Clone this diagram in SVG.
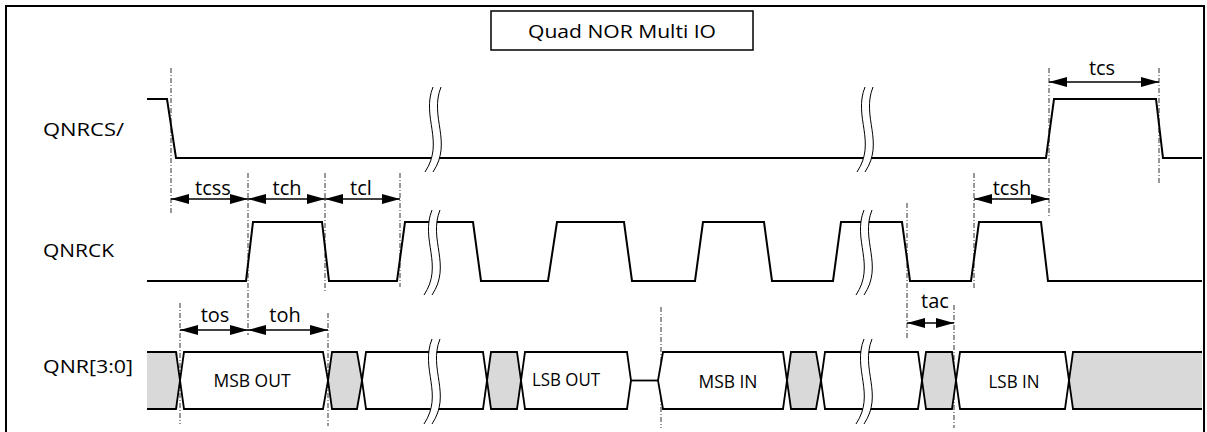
<svg xmlns="http://www.w3.org/2000/svg" width="1207" height="432" viewBox="0 0 1207 432">
<style>
.frame{fill:none;stroke:#000;stroke-width:2}
.wave{fill:none;stroke:#000;stroke-width:2;stroke-linejoin:miter}
.bus{stroke:#000;stroke-width:1.8;stroke-linejoin:miter}
.grey{fill:#d9d9d9}
.white{fill:#fff}
.guide{stroke:#333;stroke-width:1;stroke-dasharray:5 2 1 2;fill:none}
.dim{stroke:#000;stroke-width:1.5;fill:none;marker-start:url(#ah);marker-end:url(#ah)}
.lbl{font-family:"Open Sans","Liberation Sans",Arial,sans-serif;font-size:19px;fill:#000}
.tl{font-family:"Open Sans","Liberation Sans",Arial,sans-serif;font-size:20px;fill:#000;text-anchor:middle}
.dl{font-family:"Open Sans","Liberation Sans",Arial,sans-serif;font-size:18px;fill:#000;text-anchor:middle}
.brkfill{fill:#fff;stroke:none}
.brkline{fill:none;stroke:#000;stroke-width:1}
</style>
<defs>
<marker id="ah" viewBox="0 0 18 10" refX="18" refY="5" markerWidth="18" markerHeight="10" markerUnits="userSpaceOnUse" orient="auto-start-reverse">
<path d="M0,0 L18,5 L0,10 Z" fill="#000"/>
</marker>
<g id="brk">
<path class="brkfill" d="M2,0 C-10,30 14,55 -6,85 L2,85 C22,55 -2,30 10,0 Z"/>
<path class="brkline" d="M2,0 C-10,30 14,55 -6,85"/>
<path class="brkline" d="M10,0 C-2,30 22,55 2,85"/>
</g>
</defs>
<rect width="1207" height="432" fill="#fff"/>
<rect class="frame" x="6" y="6" width="1198" height="440"/>

<g id="title">
<rect x="491" y="11" width="262" height="39" fill="#fff" stroke="#000" stroke-width="1.5"/>
<text class="lbl" x="622" y="38" text-anchor="middle" textLength="188" lengthAdjust="spacingAndGlyphs">Quad NOR Multi IO</text>
</g>

<g id="guides">
<line class="guide" x1="171" y1="68" x2="171" y2="215"/>
<line class="guide" x1="248" y1="173" x2="248" y2="335"/>
<line class="guide" x1="325" y1="173" x2="325" y2="292"/>
<line class="guide" x1="400" y1="173" x2="400" y2="287"/>
<line class="guide" x1="180" y1="303" x2="180" y2="424"/>
<line class="guide" x1="328" y1="313" x2="328" y2="426"/>
<line class="guide" x1="661" y1="307" x2="661" y2="428"/>
<line class="guide" x1="907" y1="203" x2="907" y2="338"/>
<line class="guide" x1="954" y1="305" x2="954" y2="428"/>
<line class="guide" x1="974" y1="173" x2="974" y2="288"/>
<line class="guide" x1="1049" y1="68" x2="1049" y2="217"/>
<line class="guide" x1="1159" y1="68" x2="1159" y2="183"/>
</g>

<g id="qnrcs">
<text class="lbl" x="43" y="136" textLength="81" lengthAdjust="spacingAndGlyphs">QNRCS/</text>
<polyline class="wave" points="147,99 167,99 176,158 1046,158 1054,99 1156,99 1163,158 1202,158"/>
<use href="#brk" x="431" y="87"/>
<use href="#brk" x="863" y="87"/>
</g>

<g id="qnrck">
<text class="lbl" x="43" y="257" textLength="71" lengthAdjust="spacingAndGlyphs">QNRCK</text>
<polyline class="wave" points="147,281 246,281 253,222 322,222 329,281 397,281 405,222 473,222 481,281 548,281 557,222 624,222 632,281 695,281 703,222 764,222 772,281 833,281 841,222 902,222 910,281 971,281 979,222 1041,222 1048,281 1202,281"/>
<use href="#brk" x="430" y="210"/>
<use href="#brk" x="862" y="210"/>
</g>

<g id="qnr">
<text class="lbl" x="43" y="373" textLength="90" lengthAdjust="spacingAndGlyphs">QNR[3:0]</text>
<rect class="grey" x="147" y="352" width="31" height="57"/>
<path class="grey" d="M176,352 L180,380.5 L176,409 Z"/>
<path class="bus" fill="none" d="M147,352 L176,352 L180,380.5 L176,409 L147,409"/>
<path class="bus white" d="M180,380.5 L184,352 L323,352 L328,380.5 L323,409 L184,409 Z"/>
<path class="bus grey" d="M328,380.5 L332,352 L357,352 L362,380.5 L357,409 L332,409 Z"/>
<path class="bus white" d="M362,380.5 L366,352 L483,352 L487,380.5 L483,409 L366,409 Z"/>
<path class="bus grey" d="M487,380.5 L491,352 L517,352 L521,380.5 L517,409 L491,409 Z"/>
<path class="bus white" d="M521,380.5 L525,352 L627,352 L631,380.5 L627,409 L525,409 Z"/>
<line class="bus" x1="631" y1="380.5" x2="658" y2="380.5"/>
<path class="bus white" d="M658,380.5 L663,352 L783,352 L787,380.5 L783,409 L663,409 Z"/>
<path class="bus grey" d="M787,380.5 L791,352 L816,352 L821,380.5 L816,409 L791,409 Z"/>
<path class="bus white" d="M821,380.5 L825,352 L918,352 L922,380.5 L918,409 L825,409 Z"/>
<path class="bus grey" d="M922,380.5 L926,352 L952,352 L956,380.5 L952,409 L926,409 Z"/>
<path class="bus white" d="M956,380.5 L960,352 L1065,352 L1069,380.5 L1065,409 L960,409 Z"/>
<path class="grey" d="M1069,380.5 L1073,352 L1202,352 L1202,409 L1073,409 Z"/>
<path class="bus" fill="none" d="M1202,352 L1073,352 L1069,380.5 L1073,409 L1202,409"/>
<use href="#brk" x="430" y="339"/>
<use href="#brk" x="862" y="339"/>
<text class="dl" x="252" y="387" textLength="77" lengthAdjust="spacingAndGlyphs">MSB OUT</text>
<text class="dl" x="566" y="386" textLength="68" lengthAdjust="spacingAndGlyphs">LSB OUT</text>
<text class="dl" x="728" y="388" textLength="59" lengthAdjust="spacingAndGlyphs">MSB IN</text>
<text class="dl" x="1014" y="388" textLength="51" lengthAdjust="spacingAndGlyphs">LSB IN</text>
</g>

<g id="connectors">
<line class="dim" x1="171" y1="199" x2="248" y2="199"/>
<line class="dim" x1="248" y1="199" x2="325" y2="199"/>
<line class="dim" x1="325" y1="199" x2="400" y2="199"/>
<line class="dim" x1="974" y1="199" x2="1049" y2="199"/>
<line class="dim" x1="1049" y1="82" x2="1159" y2="82"/>
<line class="dim" x1="180" y1="330" x2="248" y2="330"/>
<line class="dim" x1="248" y1="330" x2="328" y2="330"/>
<line class="dim" x1="907" y1="323" x2="954" y2="323"/>
</g>

<g id="timing-labels">
<text class="tl" x="213" y="195">tcss</text>
<text class="tl" x="287" y="195">tch</text>
<text class="tl" x="361" y="195">tcl</text>
<text class="tl" x="1012" y="195">tcsh</text>
<text class="tl" x="1102" y="75">tcs</text>
<text class="tl" x="215" y="322">tos</text>
<text class="tl" x="285" y="322">toh</text>
<text class="tl" x="935" y="308">tac</text>
</g>
</svg>
